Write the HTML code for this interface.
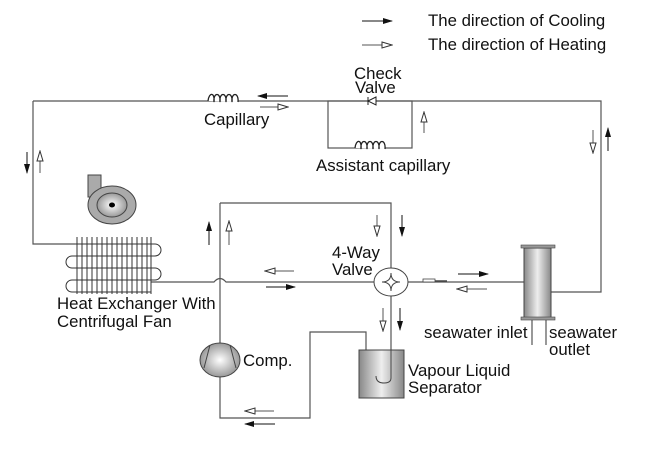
<!DOCTYPE html>
<html><head><style>body{margin:0;background:#fff}svg{display:block}text{font-family:"Liberation Sans",Arial,sans-serif;font-size:16.8px;fill:#111}</style></head>
<body>
<svg width="651" height="459" viewBox="0 0 651 459" xmlns="http://www.w3.org/2000/svg">
<defs>
<marker id="f" markerWidth="10" markerHeight="8" refX="9" refY="4" orient="auto" markerUnits="userSpaceOnUse"><path d="M0,1 L10,4 L0,7 Z" fill="#111"/></marker>
<marker id="h" markerWidth="12" markerHeight="8" refX="11" refY="4" orient="auto" markerUnits="userSpaceOnUse"><path d="M1,1 L11,4 L1,7 Z" fill="#fff" stroke="#333" stroke-width="1"/></marker>
<linearGradient id="cyl" x1="0" x2="1"><stop offset="0" stop-color="#888"/><stop offset="0.5" stop-color="#eee"/><stop offset="1" stop-color="#888"/></linearGradient>
<radialGradient id="rg"><stop offset="0" stop-color="#fff"/><stop offset="1" stop-color="#999"/></radialGradient>
</defs>
<g stroke="#555" stroke-width="1.2" fill="none">
<path d="M33,101 H601 V292 H551"/>
<path d="M33,101 V244 H75"/>
<rect x="328" y="101" width="84" height="47"/>
<path d="M151,282 H214 Q220,275 226,282 H524"/>
<path d="M220,203 H391 V382"/>
<path d="M220,203 V418 H310 V332 H366 V350"/>
<path d="M532,318 V345 M546,318 V345"/>
</g>
<g stroke="#222" stroke-width="1.3" fill="#fff">
<path d="M208,101 c1,-9 7,-9 6,1 c-1,-10 7,-10 6,0 c-1,-10 7,-10 6,0 c-1,-10 7,-10 6,0 c-1,-10 7,-10 6,0" />
<path d="M355,148 c1,-9 7,-9 6,1 c-1,-10 7,-10 6,0 c-1,-10 7,-10 6,0 c-1,-10 7,-10 6,0 c-1,-10 7,-10 6,0" />
<path d="M368,97 V105 M376,97 L368,101 L376,105 Z" stroke-width="1"/>
</g>
<g stroke="#333" stroke-width="1" fill="none">
<path d="M75,244 H155 a6,6 0 0 1 0,12 H72 a6,6 0 0 0 0,12 H155 a6,6 0 0 1 0,12 H72 a6,6 0 0 0 0,12 H151"/>
<path d="M77,237V294M82,237V294M87,237V294M92,237V294M97,237V294M102,237V294M107,237V294M112,237V294M117,237V294M122,237V294M127,237V294M132,237V294M137,237V294M142,237V294M147,237V294M151,237V294"/>
</g>
<rect x="88" y="175" width="13" height="22" fill="#aaa" stroke="#444"/>
<ellipse cx="112" cy="205" rx="24" ry="19" fill="#aaa" stroke="#444"/>
<ellipse cx="112" cy="205" rx="15" ry="12" fill="url(#rg)" stroke="#444"/>
<ellipse cx="112" cy="205" rx="3" ry="2.5" fill="#000"/>
<ellipse cx="220" cy="360" rx="20" ry="17" fill="url(#rg)" stroke="#444"/>
<path d="M210,345 L204,368 M230,345 L236,368" stroke="#444" fill="none"/>
<ellipse cx="391" cy="282" rx="17" ry="14" fill="#fff" stroke="#444"/>
<path d="M382,282 Q391,282 391,273 Q391,282 400,282 Q391,282 391,291 Q391,282 382,282 Z" fill="#fff" stroke="#444"/>
<rect x="423" y="279" width="12" height="3" fill="#fff" stroke="#444" stroke-width="0.8"/>
<line x1="435" y1="281" x2="447" y2="281" stroke="#444" stroke-width="1.5"/>
<rect x="359" y="350" width="45" height="48" fill="url(#cyl)" stroke="#444"/>
<path d="M391,350 V378 Q391,383 384,383 Q376,383 376,376" fill="none" stroke="#444"/>
<rect x="524" y="248" width="27" height="70" fill="url(#cyl)" stroke="#444"/>
<rect x="521" y="245" width="34" height="3" fill="#999" stroke="#444" stroke-width="0.6"/>
<rect x="521" y="317" width="34" height="3" fill="#999" stroke="#444" stroke-width="0.6"/>
<g stroke="#111" stroke-width="1">
<line x1="362" y1="21" x2="392" y2="21" marker-end="url(#f)"/>
<line x1="362" y1="45" x2="392" y2="45" stroke="#555" marker-end="url(#h)"/>
<line x1="288" y1="96" x2="258" y2="96" marker-end="url(#f)"/>
<line x1="260" y1="107" x2="288" y2="107" stroke="#555" marker-end="url(#h)"/>
<line x1="424" y1="133" x2="424" y2="112" stroke="#555" marker-end="url(#h)"/>
<line x1="593" y1="130" x2="593" y2="153" stroke="#555" marker-end="url(#h)"/>
<line x1="608" y1="151" x2="608" y2="128" marker-end="url(#f)"/>
<line x1="27" y1="152" x2="27" y2="173" marker-end="url(#f)"/>
<line x1="40" y1="173" x2="40" y2="151" stroke="#555" marker-end="url(#h)"/>
<line x1="209" y1="245" x2="209" y2="222" marker-end="url(#f)"/>
<line x1="229" y1="245" x2="229" y2="221" stroke="#555" marker-end="url(#h)"/>
<line x1="294" y1="271" x2="265" y2="271" stroke="#555" marker-end="url(#h)"/>
<line x1="266" y1="287" x2="295" y2="287" marker-end="url(#f)"/>
<line x1="377" y1="215" x2="377" y2="236" stroke="#555" marker-end="url(#h)"/>
<line x1="402" y1="215" x2="402" y2="236" marker-end="url(#f)"/>
<line x1="383" y1="308" x2="383" y2="331" stroke="#555" marker-end="url(#h)"/>
<line x1="400" y1="308" x2="400" y2="330" marker-end="url(#f)"/>
<line x1="458" y1="274" x2="488" y2="274" marker-end="url(#f)"/>
<line x1="487" y1="289" x2="457" y2="289" stroke="#555" marker-end="url(#h)"/>
<line x1="274" y1="411" x2="245" y2="411" stroke="#555" marker-end="url(#h)"/>
<line x1="275" y1="424" x2="245" y2="424" marker-end="url(#f)"/>
</g>
<text x="428" y="26">The direction of Cooling</text>
<text x="428" y="50">The direction of Heating</text>
<text x="354" y="79">Check</text>
<text x="355" y="93">Valve</text>
<text x="204" y="125">Capillary</text>
<text x="316" y="171">Assistant capillary</text>
<text x="332" y="258">4-Way</text>
<text x="332" y="275">Valve</text>
<text x="57" y="309">Heat Exchanger With</text>
<text x="57" y="327">Centrifugal Fan</text>
<text x="243" y="366">Comp.</text>
<text x="408" y="376">Vapour Liquid</text>
<text x="408" y="393">Separator</text>
<text x="424" y="338">seawater inlet</text>
<text x="549" y="338">seawater</text>
<text x="549" y="355">outlet</text>
</svg>
</body></html>
